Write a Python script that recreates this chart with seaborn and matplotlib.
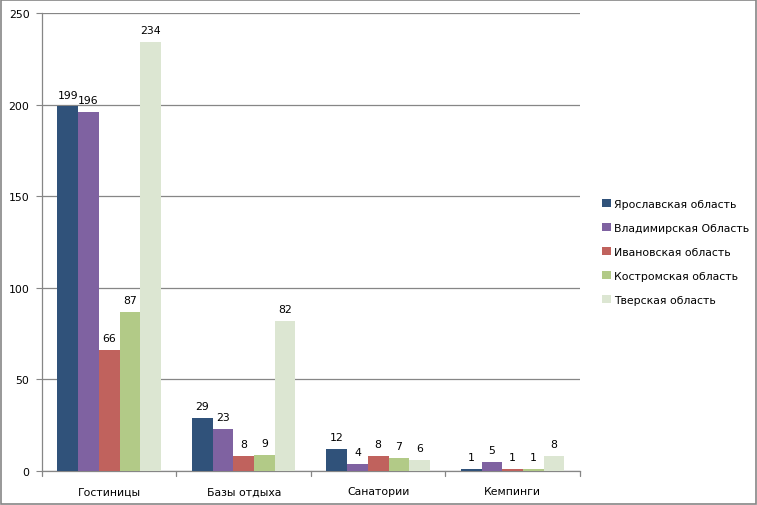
import pandas as pd
import matplotlib.pyplot as plt
import seaborn as sns
from matplotlib.patches import Rectangle

# Данные
categories = ['Гостиницы', 'Базы отдыха', 'Санатории', 'Кемпинги']
regions = ['Ярославская область', 'Владимирская Область', 'Ивановская область',
           'Костромская область', 'Тверская область']
yaroslavl = [199, 29, 12, 1]
vladimir = [196, 23, 4, 5]
ivanovo = [66, 8, 8, 1]
kostroma = [87, 9, 7, 1]
tver = [234, 82, 6, 8]

colors = ['#30527A', '#7F62A1', '#C0625D', '#B2CA87', '#DCE6D2']

values = [yaroslavl, vladimir, ivanovo, kostroma, tver]
rows = []
for reg, vals in zip(regions, values):
    for cat, v in zip(categories, vals):
        rows.append({'cat': cat, 'region': reg, 'value': v})
df = pd.DataFrame(rows)

sns.set_style('white')
plt.rcParams['font.family'] = ['DejaVu Sans']
plt.rcParams['text.color'] = 'black'
fs = 7.8

fig = plt.figure(figsize=(7.57, 5.06), dpi=100)
ax = fig.add_axes([0.0555, 0.0672, 0.7105, 0.905])

sns.barplot(data=df, x='cat', y='value', hue='region', order=categories,
            hue_order=regions, palette=colors, width=0.77, gap=0,
            saturation=1, errorbar=None, ax=ax, zorder=3, linewidth=0)

for cont in ax.containers:
    ax.bar_label(cont, padding=5, fontsize=fs, color='black')

ax.set_ylim(0, 250)
ax.set_yticks(range(0, 251, 50))
ax.yaxis.grid(True, color='#868686', linewidth=0.9, zorder=0)
ax.set_xlabel('')
ax.set_ylabel('')
ax.set_xlim(-0.5, 3.5)
ax.tick_params(axis='x', labelsize=fs, length=0, pad=11, labelcolor='black')
ax.tick_params(axis='y', labelsize=fs, length=4, direction='out', color='#868686',
               left=True, pad=5, labelcolor='black')
for s in ['top', 'right']:
    ax.spines[s].set_visible(False)
for s in ['left', 'bottom']:
    ax.spines[s].set_color('#868686')
    ax.spines[s].set_linewidth(0.9)
# отметки между категориями
for xv in [-0.5, 0.5, 1.5, 2.5, 3.5]:
    ax.plot([xv, xv], [0, -0.012], transform=ax.get_xaxis_transform(),
            color='#868686', linewidth=0.9, clip_on=False)

handles, labels = ax.get_legend_handles_labels()
ax.legend(handles, labels, loc='center left', bbox_to_anchor=(0.783, 0.5),
          bbox_transform=fig.transFigure, frameon=False, fontsize=fs,
          handlelength=0.75, handleheight=0.75, handletextpad=0.35,
          labelspacing=1.3, labelcolor='black')

fig.patches.append(Rectangle((0.001, 0.001), 0.998, 0.997, transform=fig.transFigure,
                             fill=False, edgecolor='#868686', linewidth=1.2))

fig.savefig('out.png', dpi=100)
